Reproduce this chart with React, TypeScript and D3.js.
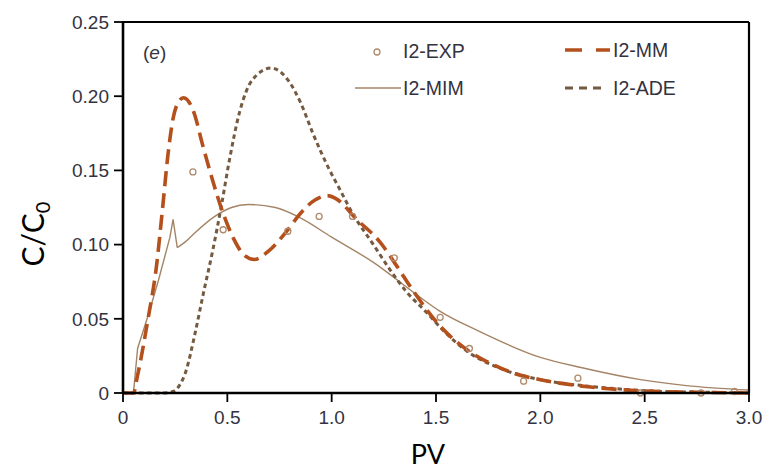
import React from "react";
import * as d3 from "d3";

const W = 767;
const H = 470;

const xTicks = [0, 0.5, 1.0, 1.5, 2.0, 2.5, 3.0];
const xTickLabels = ["0", "0.5", "1.0", "1.5", "2.0", "2.5", "3.0"];
const yTicks = [0, 0.05, 0.1, 0.15, 0.2, 0.25];
const yTickLabels = ["0", "0.05", "0.10", "0.15", "0.20", "0.25"];

const mmX = [0, 0.05, 0.07, 0.12, 0.16, 0.19, 0.215, 0.24, 0.265, 0.29, 0.34, 0.38, 0.43, 0.48, 0.53, 0.58, 0.63, 0.7, 0.79, 0.85, 0.92, 0.98, 1.02, 1.12, 1.23, 1.31, 1.39, 1.52, 1.65, 1.76, 1.88, 2.0, 2.24, 2.48, 2.75, 3.0];
const mmY = [0, 0, 0.012, 0.05, 0.085, 0.125, 0.16, 0.185, 0.196, 0.199, 0.189, 0.168, 0.143, 0.121, 0.104, 0.093, 0.09, 0.096, 0.11, 0.121, 0.13, 0.133, 0.131, 0.117, 0.102, 0.086, 0.069, 0.045, 0.029, 0.02, 0.013, 0.009, 0.004, 0.0015, 0.0005, 0];

const adeX = [0, 0.2, 0.24, 0.27, 0.3, 0.345, 0.385, 0.43, 0.47, 0.51, 0.56, 0.62, 0.71, 0.79, 0.85, 0.91, 0.98, 1.04, 1.1, 1.2, 1.28, 1.36, 1.45, 1.55, 1.65, 1.8, 2.0, 2.2, 2.4, 2.6, 2.8, 3.0];
const adeY = [0, 0, 0.001, 0.005, 0.014, 0.04, 0.067, 0.096, 0.125, 0.157, 0.19, 0.211, 0.219, 0.211, 0.196, 0.175, 0.153, 0.137, 0.121, 0.1, 0.083, 0.068, 0.055, 0.04, 0.028, 0.017, 0.009, 0.005, 0.0025, 0.001, 0.0005, 0];

// MIM: first points (up to the spike) are joined by straight segments
const mimX = [0, 0.05, 0.07, 0.12, 0.17, 0.225, 0.24, 0.26, 0.3, 0.345, 0.44, 0.52, 0.6, 0.73, 0.85, 1.0, 1.2, 1.4, 1.52, 1.7, 2.0, 2.2, 2.48, 2.7, 3.0];
const mimY = [0, 0, 0.03, 0.052, 0.076, 0.105, 0.117, 0.098, 0.102, 0.108, 0.119, 0.125, 0.127, 0.125, 0.118, 0.105, 0.088, 0.067, 0.055, 0.042, 0.024, 0.017, 0.009, 0.005, 0.002];
const mimLinearCount = 8;

const expX = [0.335, 0.48, 0.79, 0.94, 1.1, 1.3, 1.52, 1.66, 1.92, 2.18, 2.48, 2.77, 2.93];
const expY = [0.149, 0.11, 0.109, 0.119, 0.119, 0.091, 0.051, 0.03, 0.008, 0.01, 0.0, 0.0, 0.001];

const C_MM = "#b4501c";
const C_ADE = "#745a40";
const C_MIM = "#a48466";
const C_EXP = "#b08a6c";
const TXT = "#33333f";

export default function App() {
  const x = d3.scaleLinear().domain([0, 3]).range([123, 749]);
  const y = d3.scaleLinear().domain([0, 0.25]).range([393, 22]);

  const smooth = d3
    .line<[number, number]>()
    .x((d) => x(d[0]))
    .y((d) => y(d[1]))
    .curve(d3.curveMonotoneX);
  const straight = d3
    .line<[number, number]>()
    .x((d) => x(d[0]))
    .y((d) => y(d[1]));

  const mm = mmX.map((v, i) => [v, mmY[i]] as [number, number]);
  const ade = adeX.map((v, i) => [v, adeY[i]] as [number, number]);
  const mim = mimX.map((v, i) => [v, mimY[i]] as [number, number]);
  const mimA = mim.slice(0, mimLinearCount);
  const mimB = mim.slice(mimLinearCount - 1);

  const tickFont = "'Liberation Sans', Arial, sans-serif";

  return (
    <svg
      width={W}
      height={H}
      style={{ position: "absolute", left: 0, top: 0, background: "#fff" }}
    >
      <rect x={0} y={0} width={W} height={H} fill="#fff" />
      {/* curves */}
      <path d={straight(mimA) || ""} fill="none" stroke={C_MIM} strokeWidth={1.4} strokeLinejoin="miter" />
      <path d={smooth(mimB) || ""} fill="none" stroke={C_MIM} strokeWidth={1.4} />
      <path
        d={smooth(ade) || ""}
        fill="none"
        stroke={C_ADE}
        strokeWidth={3}
        strokeDasharray="4.5 3.5"
      />
      <path
        d={smooth(mm) || ""}
        fill="none"
        stroke={C_MM}
        strokeWidth={3.6}
        strokeDasharray="15 7"
      />
      {expX.map((v, i) => (
        <circle
          key={i}
          cx={x(v)}
          cy={y(expY[i])}
          r={3}
          fill="none"
          stroke={C_EXP}
          strokeWidth={1.3}
        />
      ))}

      {/* frame */}
      <line x1={x(0)} x2={x(3)} y1={y(0.25)} y2={y(0.25)} stroke="#000" strokeWidth={2.2} />
      <line x1={x(3)} x2={x(3)} y1={y(0.25)} y2={y(0)} stroke="#000" strokeWidth={2.2} />
      <line x1={x(0)} x2={x(3) + 1} y1={y(0)} y2={y(0)} stroke="#000" strokeWidth={2.6} />
      <line x1={x(0)} x2={x(0)} y1={y(0.25) - 1} y2={y(0) + 1} stroke="#000" strokeWidth={2.6} />

      {/* y ticks */}
      {yTicks.map((t, i) => (
        <g key={"y" + i}>
          <line x1={x(0) - 9} x2={x(0)} y1={y(t)} y2={y(t)} stroke="#000" strokeWidth={1.8} />
          <text
            x={x(0) - 14}
            y={y(t)}
            dy="0.36em"
            textAnchor="end"
            fontFamily={tickFont}
            fontSize={19}
            fill={TXT}
          >
            {yTickLabels[i]}
          </text>
        </g>
      ))}
      {/* x ticks */}
      {xTicks.map((t, i) => (
        <g key={"x" + i}>
          <line x1={x(t)} x2={x(t)} y1={y(0)} y2={y(0) + 9} stroke="#000" strokeWidth={1.8} />
          <text
            x={x(t)}
            y={424}
            textAnchor="middle"
            fontFamily={tickFont}
            fontSize={19}
            fill={TXT}
          >
            {xTickLabels[i]}
          </text>
        </g>
      ))}

      {/* panel label */}
      <text x={143} y={59} fontFamily={tickFont} fontSize={19} fill={TXT}>
        (<tspan fontStyle="italic">e</tspan>)
      </text>

      {/* legend */}
      <circle cx={377} cy={52} r={3} fill="none" stroke={C_EXP} strokeWidth={1.3} />
      <text x={403} y={51} dy="0.36em" fontFamily={tickFont} fontSize={19.5} fill={TXT}>
        I2-EXP
      </text>
      <line x1={355} x2={401} y1={88} y2={88} stroke={C_MIM} strokeWidth={1.6} />
      <text x={403} y={88} dy="0.36em" fontFamily={tickFont} fontSize={19.5} fill={TXT}>
        I2-MIM
      </text>
      <line x1={565} x2={610} y1={50} y2={50} stroke={C_MM} strokeWidth={3.6} strokeDasharray="17 14 14" />
      <text x={613} y={50} dy="0.36em" fontFamily={tickFont} fontSize={19.5} fill={TXT}>
        I2-MM
      </text>
      <line x1={565} x2={601} y1={88} y2={88} stroke={C_ADE} strokeWidth={3} strokeDasharray="8 6" />
      <text x={613} y={88} dy="0.36em" fontFamily={tickFont} fontSize={19.5} fill={TXT}>
        I2-ADE
      </text>

      {/* axis titles */}
      <text
        transform="translate(44,234) rotate(-90)"
        textAnchor="middle"
        fontFamily="Lato, 'Open Sans', sans-serif"
        fontSize={30}
        fill="#000"
      >
        C/C<tspan fontSize={20} dy={6}>0</tspan>
      </text>
      <text
        x={428}
        y={464}
        textAnchor="middle"
        fontFamily="Lato, 'Open Sans', sans-serif"
        fontSize={27}
        fill="#000"
      >
        PV
      </text>
    </svg>
  );
}
